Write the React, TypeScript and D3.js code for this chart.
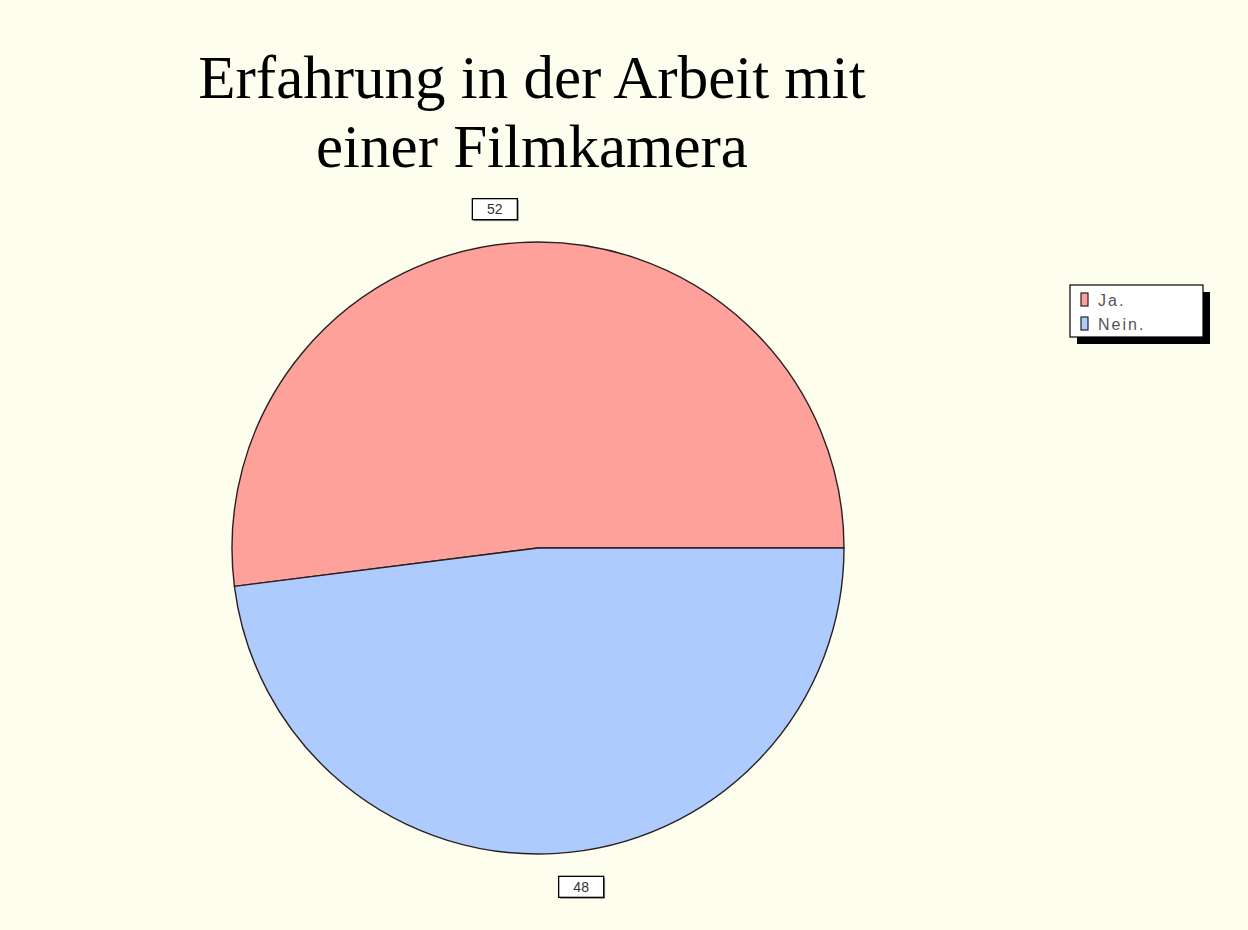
import React, { useMemo } from 'react';
import * as d3 from 'd3';

const categories = ['Ja.', 'Nein.'];
const values = [52, 48];
const sliceColors = ['#ffa19b', '#aecbfd'];
const titleLines = ['Erfahrung in der Arbeit mit', 'einer Filmkamera'];

const width = 1248;
const height = 930;

export default function App() {
  const cx = 538;
  const cy = 548;
  const radius = 306;

  // slices start at 3 o'clock and run counter-clockwise
  const arcs = useMemo(() => {
    const pie = d3
      .pie<number>()
      .sort(null)
      .startAngle(Math.PI / 2)
      .endAngle(Math.PI / 2 - 2 * Math.PI);
    return pie(values);
  }, []);

  const arcGen = d3.arc<d3.PieArcDatum<number>>().innerRadius(0).outerRadius(radius);
  const labelRadius = radius + 23;

  return (
    <svg
      width={width}
      height={height}
      style={{ position: 'absolute', left: 0, top: 0 }}
    >
      <rect x={0} y={0} width={width} height={height} fill="#fefeee" />

      {/* Title */}
      <g fontFamily="'Liberation Serif', 'Times New Roman', serif" fontSize={61} fill="#000" textAnchor="middle">
        {titleLines.map((line, i) => (
          <text key={line} x={532} y={98 + i * 69}>
            {line}
          </text>
        ))}
      </g>

      {/* Pie */}
      <g transform={`translate(${cx},${cy})`}>
        {arcs.map((a, i) => (
          <path
            key={categories[i]}
            d={arcGen(a) || ''}
            fill={sliceColors[i]}
            stroke="#2a1f22"
            strokeWidth={1.4}
            strokeLinejoin="round"
          />
        ))}
      </g>

      {/* Value labels */}
      {arcs.map((a, i) => {
        const mid = (a.startAngle + a.endAngle) / 2;
        const px = cx + Math.sin(mid) * labelRadius;
        const py = cy - Math.cos(mid) * labelRadius;
        const bw = 45;
        const bh = 21;
        const bx = px < cx ? px - bw : px;
        const by = py < cy ? py - bh : py;
        return (
          <g key={`lbl-${i}`}>
            <rect x={bx + 1.5} y={by + 1.5} width={bw} height={bh} fill="#9a9a90" />
            <rect x={bx} y={by} width={bw} height={bh} fill="#fff" stroke="#000" strokeWidth={1.3} />
            <text
              x={bx + bw / 2}
              y={by + bh / 2 + 5}
              textAnchor="middle"
              fontFamily="'Liberation Sans', Arial, sans-serif"
              fontSize={14}
              fill="#333"
            >
              {values[i]}
            </text>
          </g>
        );
      })}

      {/* Legend */}
      <g>
        <rect x={1077} y={292} width={133} height={52} fill="#000" />
        <rect x={1070} y={285} width={133} height={52} fill="#fff" stroke="#000" strokeWidth={1.2} />
        {categories.map((c, i) => (
          <g key={c} transform={`translate(1081,${293 + i * 24})`}>
            <rect x={0} y={0} width={7} height={13} fill={sliceColors[i]} stroke="#222" strokeWidth={1.2} />
            <text
              x={17}
              y={13}
              fontFamily="'Liberation Sans', Arial, sans-serif"
              fontSize={16}
              letterSpacing={2}
              fill="#555"
            >
              {c}
            </text>
          </g>
        ))}
      </g>
    </svg>
  );
}
